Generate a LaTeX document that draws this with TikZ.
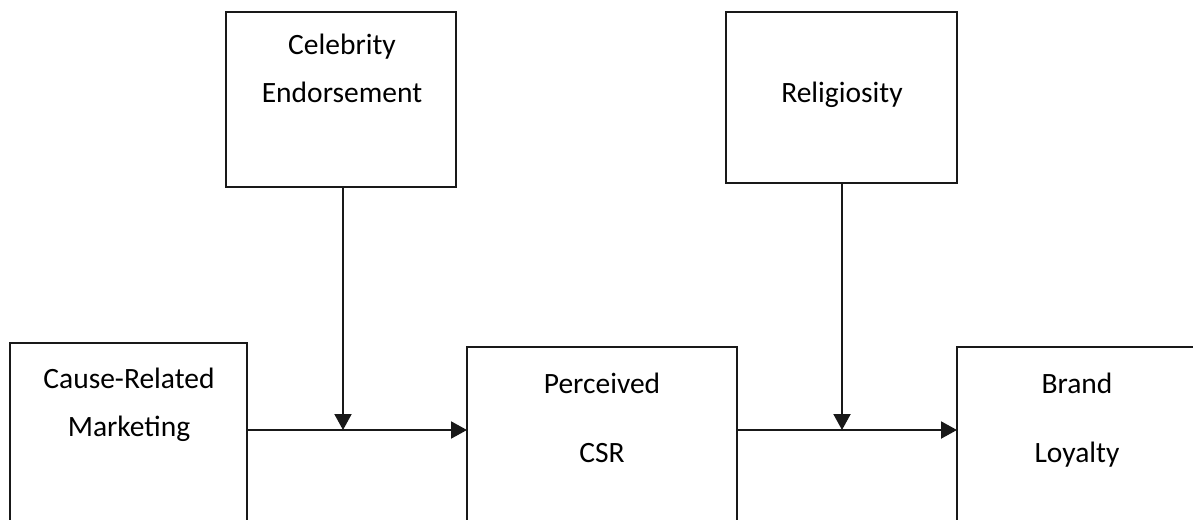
\documentclass[tikz,border=0pt]{standalone}
\usepackage{fontspec}
\setmainfont{Carlito}
\usetikzlibrary{arrows.meta}
\tikzset{
  boxline/.style={draw=black!90, line width=2.2pt},
  lbl/.style={anchor=base, inner sep=0pt, font=\fontsize{29.5}{34}\selectfont},
  conn/.style={draw=black!90, line width=2pt, -{Triangle[length=16pt,width=17pt]}},
}
\begin{document}
\begin{tikzpicture}[x=1pt,y=-1pt]
\useasboundingbox (0,0) rectangle (1193,519);
\clip (0,0) rectangle (1193,519);
\fill[white] (0,0) rectangle (1193,519);
% boxes
\draw[boxline] (226,12) rectangle (456,187);
\draw[boxline] (726,12) rectangle (957,183);
\draw[boxline] (10,343) rectangle (247,560);
\draw[boxline] (467,347) rectangle (737,560);
\draw[boxline] (957,347) rectangle (1240,560);
% anchor points
\coordinate (celB) at (343,187);
\coordinate (relB) at (842,183);
\coordinate (crmR) at (247,430);
\coordinate (csrL) at (467,430);
\coordinate (csrR) at (737,430);
\coordinate (blL) at (957,430);
\coordinate (m1) at (343,430);
\coordinate (m2) at (842,430);
% texts
\node[lbl] (cel1) at (342,55) {Celebrity};
\node[lbl] (cel2) at (342,102) {Endorsement};
\node[lbl] (rel1) at (842,102) {Religiosity};
\node[lbl] (crm1) at (129,388) {Cause-Related};
\node[lbl] (crm2) at (129,436) {Marketing};
\node[lbl] (csr1) at (602,393) {Perceived};
\node[lbl] (csr2) at (602,462) {CSR};
\node[lbl] (bl1) at (1077,393) {Brand};
\node[lbl] (bl2) at (1077,462) {Loyalty};
% connectors
\draw[conn] (crmR) -- (csrL);
\draw[conn] (csrR) -- (blL);
\draw[conn] (celB) -- (m1);
\draw[conn] (relB) -- (m2);
\end{tikzpicture}
\end{document}
